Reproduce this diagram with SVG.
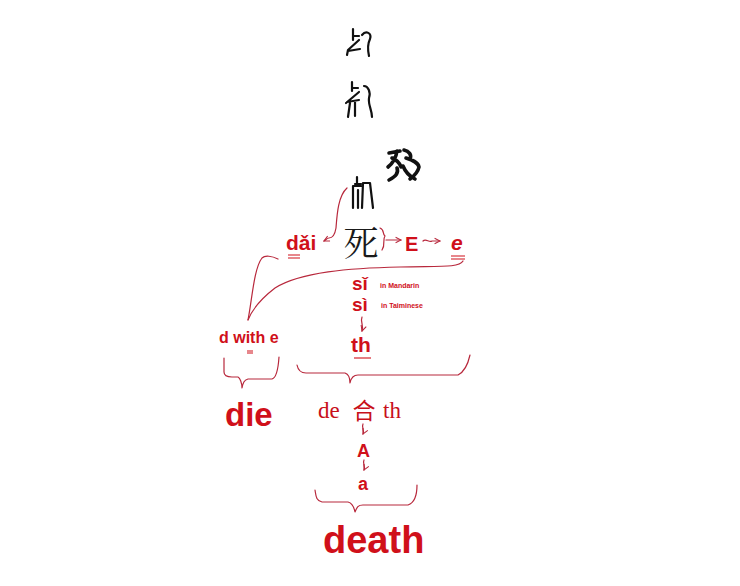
<svg xmlns="http://www.w3.org/2000/svg" width="740" height="586" viewBox="0 0 740 586">
<defs>
<style>
.red{fill:#d0101a;font-family:"Liberation Sans",Arial,sans-serif;font-weight:bold}
.ser{fill:#c8101a;font-family:"Liberation Serif","Times New Roman",serif}
.note{fill:#d0101a;font-family:"Liberation Sans",Arial,sans-serif;font-weight:bold;font-size:7px}
.ln{fill:none;stroke:#b8283c;stroke-width:1.2;stroke-linecap:round;stroke-linejoin:round}
.ul{fill:none;stroke:#d0101a;stroke-width:1.1}
.anc{fill:none;stroke:#111;stroke-width:2.2;stroke-linecap:round;stroke-linejoin:round}
.ancb{fill:none;stroke:#111;stroke-width:3.6;stroke-linecap:round;stroke-linejoin:round}
</style>
<marker id="ah" viewBox="0 0 8 8" refX="7" refY="4" markerWidth="6" markerHeight="6" orient="auto-start-reverse">
<path d="M1,1 L7,4 L1,7" fill="none" stroke="#b8283c" stroke-width="1.2"/>
</marker>
</defs>
<rect width="740" height="586" fill="#fff"/>

<g id="ancient1">
<path class="anc" d="M353,29 V40 M353,36 H359 M359,40 L348,50 L347,55 M348,51 L360,49 M362,35 C366,30 372,33 370,39 C368,43 367,47 369,56"/>
</g>
<g id="ancient2">
<path class="anc" d="M352,82 V91 M352,88 H358 M359,92 L346,103 M347,102 L359,100 M350,103 L348,117 M355,102 L355,116 M364,86 C368,86 371,92 369,98 C368,105 372,110 372,117"/>
</g>
<g id="ancient3">
<path class="ancb" d="M389,153 L400,151 M397,151 C396,158 393,163 388,167 M392,158 C397,160 400,164 401,167 M397,168 C399,173 395,177 389,180 M404,150 C409,151 412,155 410,159 M406,158 C412,160 418,162 419,167 C418,172 414,176 410,179 M403,166 C405,171 409,176 415,179"/>
</g>
<g id="ancient4">
<path class="anc" d="M357,177 V183 M355,184 H361 M361,186 H353 V208 M358,190 V208 M363,183 H370 M363,183 L362,208 M370,183 L373,208"/>
</g>

<g id="si-char">
<text x="361" y="256" font-family="'Noto Serif CJK SC','Noto Sans CJK SC',serif" font-size="35" fill="#1a1a1a" text-anchor="middle">死</text>
</g>
<g id="dai">
<text class="red" x="286" y="250" font-size="21">dǎi</text>
<path class="ul" d="M288,255 H300 M288,258 H300"/>
</g>
<g id="E">
<text class="red" x="405" y="251" font-size="20">E</text>
</g>
<g id="e">
<text class="red" x="451" y="250" font-size="21" font-style="italic">e</text>
<path class="ul" d="M451,256 H465 M451,259 H465"/>
</g>
<g id="si3">
<text class="red" x="352" y="290" font-size="19">sǐ</text>
<text class="note" x="380" y="288">in Mandarin</text>
</g>
<g id="si4">
<text class="red" x="352" y="311" font-size="19">sì</text>
<text class="note" x="381" y="308">in Taiminese</text>
</g>
<g id="th">
<text class="red" x="351" y="352" font-size="21">th</text>
<path class="ul" d="M354,358 H371"/>
</g>
<g id="dwithe">
<text class="red" x="219" y="343" font-size="16">d with e</text>
<path class="ul" d="M247,351 H253 M247,353 H253"/>
</g>
<g id="die">
<text class="red" x="225" y="426" font-size="33">die</text>
</g>
<g id="death-formula">
<text class="ser" x="318" y="418" font-size="23">de</text>
<text x="364" y="419" font-family="'Noto Sans CJK SC',sans-serif" font-size="23" fill="#c8101a" text-anchor="middle">合</text>
<text class="ser" x="383" y="418" font-size="23">th</text>
</g>
<g id="A">
<text class="red" x="357" y="457" font-size="18">A</text>
</g>
<g id="a">
<text class="red" x="358" y="490" font-size="18">a</text>
</g>
<g id="death">
<text class="red" x="323" y="553" font-size="38">death</text>
</g>

<g id="connectors">
<path class="ln" marker-end="url(#ah)" d="M347,188 C338,196 337,215 336,228 C335,234 333,238 329,238 C327,238 326,240 324,241"/>
<path class="ln" d="M380,228 C385,230 382,234 385,236 C382,240 386,244 382,250"/>
<path class="ln" marker-end="url(#ah)" d="M386,240 H401"/>
<path class="ln" marker-end="url(#ah)" d="M423,241 C426,238 429,243 432,241 L440,241"/>
<path class="ln" d="M463,261 C459,268 440,266 400,267 C350,268 300,272 275,288 C262,298 252,310 248,320"/>
<path class="ln" d="M278,259 C272,256 265,255 262,258 C254,268 252,300 248,320"/>
<path class="ln" marker-end="url(#ah)" d="M362,317 C360,322 364,325 362,331"/>
<path class="ln" d="M224,358 V372 C224,376 227,377 232,377 H238 C240,378 242,383 242,388 C243,383 244,380 248,379 H272 C276,378 278,372 279,357"/>
<path class="ln" d="M297,365 C298,370 300,373 306,373 H345 C348,374 350,378 350,383 C351,378 353,375 358,375 H458 C464,372 468,364 470,355"/>
<path class="ln" marker-end="url(#ah)" d="M363,424 C361,428 365,430 363,434"/>
<path class="ln" marker-end="url(#ah)" d="M364,460 C362,464 366,466 364,470"/>
<path class="ln" d="M315,490 C316,496 316,501 322,502 H348 C352,503 354,507 355,512 C357,507 358,505 363,505 H408 C414,503 417,496 417,485"/>
</g>
</svg>
